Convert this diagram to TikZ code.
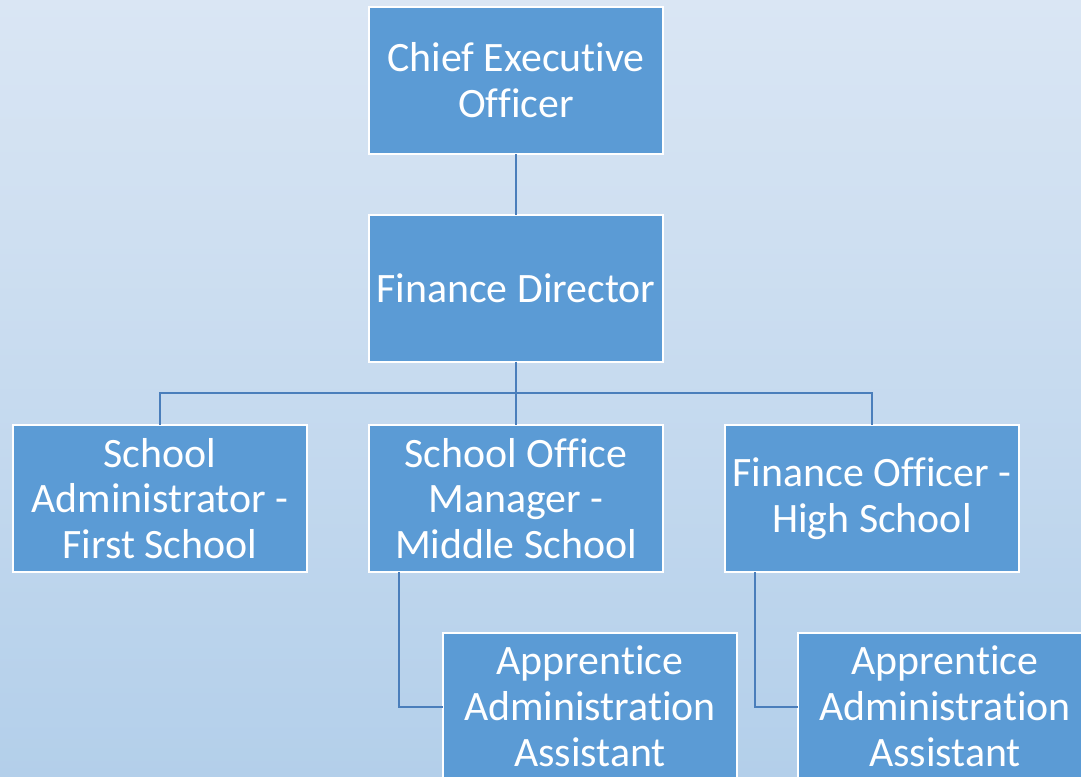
\documentclass[tikz,border=0pt]{standalone}
\usepackage{fontspec}
\setmainfont{Carlito}[RawFeature={-liga,-clig,-calt,-dlig}]
\usepackage{tikz}
\usetikzlibrary{positioning}
\definecolor{bgTop}{HTML}{DAE6F4}
\definecolor{bgBot}{HTML}{B3CFEA}
\definecolor{boxBlue}{HTML}{5B9BD5}
\definecolor{lineBlue}{HTML}{4A7EBB}

\begin{document}
\begin{tikzpicture}[
    x=1bp, y=1bp,
    node distance=62bp,
    orgbox/.style={draw=white, line width=2.5bp, fill=boxBlue, outer sep=0pt,
      minimum width=294bp, minimum height=147bp, inner sep=0pt,
      align=center, text=white, font=\fontsize{42}{46}\selectfont},
    link/.style={draw=lineBlue, line width=2bp}
  ]
  \useasboundingbox (0,0) rectangle (1081,777);
  \clip (0,0) rectangle (1081,777);
  \shade[top color=bgTop, bottom color=bgBot] (0,0) rectangle (1081,777);

  % boxes
  \node[orgbox] (ceo) at (516,696.5) {Chief Execut\kern0pt ive\\Officer};
  \node[orgbox, below=61bp of ceo] (fd) {Finance Director};
  \node[orgbox, below=63bp of fd] (om) {School Office\\Manager -\\Middle School};
  \node[orgbox, left=of om] (sa) {School\\Administrator -\\First School};
  \node[orgbox, right=of om] (fo) {Finance Officer -\\High School};
  \node[orgbox, below=61bp of om, xshift=74bp] (ap1) {Apprent\kern0pt ice\\Administrat\kern0pt ion\\Assistant};
  \node[orgbox, below=61bp of fo, xshift=73bp] (ap2) {Apprent\kern0pt ice\\Administrat\kern0pt ion\\Assistant};

  % connectors
  \draw[link] (ceo) -- (fd);
  \draw[link] (fd.south) -- (om.north);
  \draw[link] (fd.south) -- ++(0,-31) -| (sa.north);
  \draw[link] (fd.south) -- ++(0,-31) -| (fo.north);
  \draw[link] ([xshift=30bp]om.south west) |- (ap1.west);
  \draw[link] ([xshift=30bp]fo.south west) |- (ap2.west);
\end{tikzpicture}
\end{document}
